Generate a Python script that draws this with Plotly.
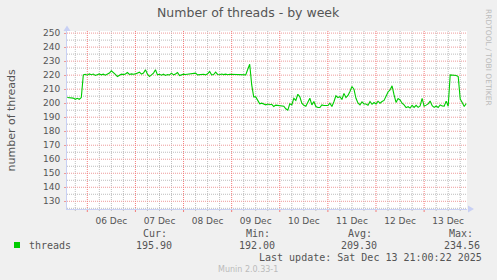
import pandas as pd
import plotly.graph_objects as go

# ---- data ----
start_time = "2025-12-05 14:00"
threads = [
    204.0, 203.8, 204.0, 203.6, 202.8, 203.5, 202.8, 204.0, 220.2, 220.6,
    220.0, 220.9, 220.3, 220.8, 219.8, 220.5, 220.9, 220.2, 220.7, 220.0,
    220.8, 221.5, 223.1, 222.0, 220.6, 219.0, 220.0, 220.7, 220.4, 220.8,
    221.9, 220.5, 220.9, 220.6, 220.9, 221.4, 222.1, 220.7, 221.5, 223.8,
    220.7, 219.0, 220.5, 221.5, 223.8, 220.2, 220.6, 220.0, 220.7, 219.8,
    220.4, 220.1, 221.4, 220.2, 220.8, 221.9, 219.7, 220.3, 220.7, 220.5,
    220.7, 220.4, 220.7, 220.9, 221.4, 220.2, 220.4, 220.2, 220.6, 220.2,
    221.0, 222.6, 220.2, 220.4, 222.1, 220.5, 220.3, 220.8, 220.4, 220.7,
    220.3, 220.6, 220.5, 220.9, 220.4, 220.7, 220.3, 220.5, 220.4, 220.2,
    224.0, 227.8, 213.0, 204.5, 204.5, 201.5, 199.5, 200.0, 199.2, 198.8,
    199.4, 198.9, 199.2, 197.6, 198.6, 198.4, 198.0, 197.6, 197.8, 196.0,
    195.0, 199.5, 198.8, 203.5, 202.0, 206.4, 204.5, 200.0, 198.5, 197.8,
    201.0, 203.5, 198.8, 201.2, 197.6, 196.9, 196.9, 198.8, 198.3, 198.5,
    198.3, 200.0, 197.6, 201.0, 205.3, 204.0, 204.7, 202.6, 207.0, 204.0,
    205.5, 208.3, 211.9, 210.0, 203.5, 200.2, 198.8, 201.0, 199.5, 199.4,
    198.5, 201.2, 199.2, 200.5, 199.5, 201.4, 200.0, 201.2, 202.0, 205.0,
    208.0, 209.5, 212.4, 205.9, 200.5, 203.3, 202.3, 200.0, 198.8, 196.8,
    197.5, 196.5, 198.5, 197.0, 198.5, 197.0, 198.0, 203.5, 197.9, 198.6,
    199.5, 201.5, 198.2, 197.0, 198.0, 196.9, 198.8, 198.0, 197.9, 201.5,
    197.8, 220.2, 220.0, 220.1, 219.8, 219.0, 203.0, 200.5, 197.6, 199.8,
]
series_name = "threads"
day_labels = ["06 Dec", "07 Dec", "08 Dec", "09 Dec", "10 Dec", "11 Dec", "12 Dec", "13 Dec"]
first_day = "2025-12-06"
stat_labels = ["Cur:", "Min:", "Avg:", "Max:"]
stat_values = ["195.90", "192.00", "209.30", "234.56"]
last_update = "Last update: Sat Dec 13 21:00:22 2025"
title_text = "Number of threads - by week"
y_title = "number of threads"
x_range = ["2025-12-05 13:52", "2025-12-13 21:23"]
y_range = [124.5, 251.5]

times = pd.date_range(start_time, periods=len(threads), freq="h")

# grid / tick positions (derived from the axis ranges)
midnights = list(pd.date_range(first_day, periods=len(day_labels), freq="D"))
noons = [d + pd.Timedelta(hours=12) for d in midnights]
x_minor = [t for t in pd.date_range("2025-12-05 18:00", x_range[1], freq="6h") if t.hour != 0]
y_major = list(range(130, 251, 10))
y_minor = list(range(125, 251, 10))

# ---- layout geometry (pixels) ----
W, H = 497, 280
L, R, T, B = 67, 467, 31, 209


def px(x):
    return (x - L) / (R - L)


def py(y):
    return (B - y) / (B - T)


TXT = "#555555"
MAJX = "#F47C7C"
MAJY = "#EE9A9A"
MIN = "#BDBDBD"
AXC = "#C8D0F4"
DOT = "1px,1px"

fig = go.Figure()
fig.add_trace(go.Scatter(
    x=times, y=threads, mode="lines", name=series_name,
    line=dict(color="#00CC00", width=1.1), showlegend=False,
))

shapes = []
# minor grid (grey dotted)
for t in x_minor:
    shapes.append(dict(type="line", layer="below", xref="x", yref="paper", x0=t, x1=t,
                       y0=1, y1=0, line=dict(color=MIN, width=1, dash=DOT)))
    shapes.append(dict(type="line", layer="below", xref="x", yref="paper", x0=t, x1=t,
                       y0=0, y1=-2 / (B - T), line=dict(color=MIN, width=1)))
for v in y_minor:
    shapes.append(dict(type="line", layer="below", xref="paper", yref="y", x0=0, x1=1,
                       y0=v, y1=v, line=dict(color=MIN, width=1, dash=DOT)))
# major grid (red dotted)
for v in y_major:
    shapes.append(dict(type="line", layer="below", xref="paper", yref="y", x0=0, x1=1,
                       y0=v, y1=v, line=dict(color=MAJY, width=1, dash=DOT)))
for t in midnights:
    shapes.append(dict(type="line", layer="below", xref="x", yref="paper", x0=t, x1=t,
                       y0=1, y1=0, line=dict(color=MAJX, width=1, dash=DOT)))
    shapes.append(dict(type="line", layer="below", xref="x", yref="paper", x0=t, x1=t,
                       y0=0, y1=-3 / (B - T), line=dict(color=MAJX, width=1)))
# legend colour box
shapes.append(dict(type="rect", xref="paper", yref="paper", x0=px(14), x1=px(20),
                   y0=py(248), y1=py(242), fillcolor="#00CC00", line=dict(width=0)))
# axis arrows
shapes.append(dict(type="path", xref="paper", yref="paper",
                   path=f"M {px(63.5)},{py(31)} L {px(70.5)},{py(31)} L {px(67)},{py(25.5)} Z",
                   fillcolor=AXC, line=dict(width=0)))
shapes.append(dict(type="path", xref="paper", yref="paper",
                   path=f"M {px(468)},{py(205.5)} L {px(468)},{py(212.5)} L {px(474)},{py(209)} Z",
                   fillcolor=AXC, line=dict(width=0)))

annotations = []
annotations.append(dict(text=title_text, x=px(248.5), y=py(13), xref="paper", yref="paper",
                        showarrow=False, xanchor="center", yanchor="middle",
                        font=dict(family="DejaVu Sans", size=12.5, color=TXT)))
annotations.append(dict(text=y_title, x=px(11), y=py(119.5), xref="paper", yref="paper",
                        showarrow=False, textangle=-90, xanchor="center", yanchor="middle",
                        font=dict(family="DejaVu Sans", size=11, color=TXT)))
annotations.append(dict(text="RRDTOOL / TOBI OETIKER", x=px(489), y=py(57), xref="paper",
                        yref="paper", showarrow=False, textangle=90, xanchor="center",
                        yanchor="middle",
                        font=dict(family="DejaVu Sans", size=7.5, color="#BBBBBB")))

mono = dict(family="DejaVu Sans Mono", size=10, color=TXT)
annotations.append(dict(text=series_name, x=px(26.5), y=py(245.5), xref="paper", yref="paper",
                        showarrow=False, xanchor="left", yanchor="middle", font=mono))
label_left = [140.7, 244.0, 346.0, 447.3]
value_left = [134.3, 236.7, 339.3, 441.7]
for lab, lx in zip(stat_labels, label_left):
    annotations.append(dict(text=lab, x=px(lx), y=py(233.3), xref="paper", yref="paper",
                            showarrow=False, xanchor="left", yanchor="middle", font=mono))
for val, vx in zip(stat_values, value_left):
    annotations.append(dict(text=val, x=px(vx), y=py(245.5), xref="paper", yref="paper",
                            showarrow=False, xanchor="left", yanchor="middle", font=mono))
annotations.append(dict(text=last_update, x=px(483.5), y=py(257.7), xref="paper", yref="paper",
                        showarrow=False, xanchor="right", yanchor="middle", font=mono))
annotations.append(dict(text="Munin 2.0.33-1", x=px(248.3), y=py(269), xref="paper",
                        yref="paper", showarrow=False, xanchor="center", yanchor="middle",
                        font=dict(family="DejaVu Sans", size=8, color="#BBBBBB")))

fig.update_layout(
    width=W, height=H,
    margin=dict(l=L, r=W - R, t=T, b=H - B, pad=0),
    paper_bgcolor="#F0F0F0", plot_bgcolor="#FFFFFF",
    annotations=annotations, shapes=shapes,
    showlegend=False,
    xaxis=dict(
        type="date", range=x_range, tickmode="array", tickvals=noons, ticktext=day_labels,
        showgrid=False, ticks="outside", ticklen=3, tickcolor="rgba(0,0,0,0)",
        showline=True, linecolor=AXC, linewidth=1, zeroline=False,
        tickfont=dict(family="DejaVu Sans", size=9, color=TXT),
        fixedrange=True,
    ),
    yaxis=dict(
        range=y_range, tickmode="array", tickvals=y_major,
        showgrid=False, ticks="outside", ticklen=2, tickcolor=MAJY,
        showline=True, linecolor=AXC, linewidth=1, zeroline=False,
        tickfont=dict(family="DejaVu Sans", size=9, color=TXT),
        ticklabelstandoff=2,
        fixedrange=True,
    ),
)

fig.write_html("out.html", config={"displayModeBar": False})
